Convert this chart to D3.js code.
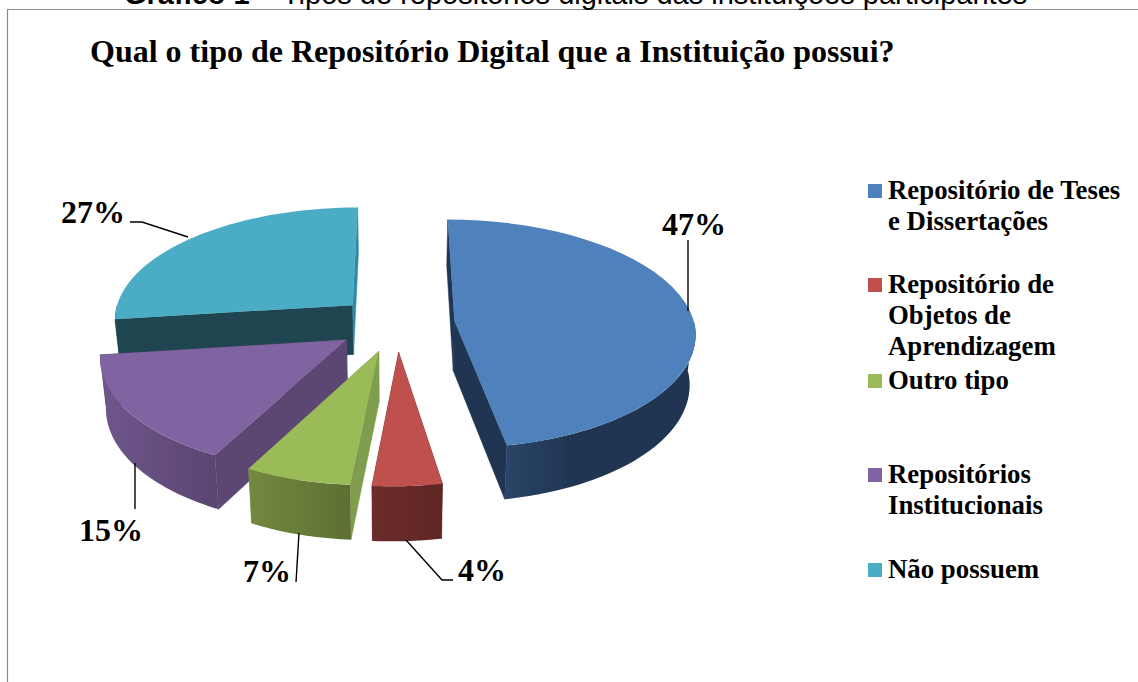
<!DOCTYPE html>
<html><head><meta charset="utf-8">
<style>
html,body{margin:0;padding:0;background:#fff}
svg{display:block}
text{font-family:"Liberation Serif","Times New Roman",serif;font-weight:bold;fill:#000}
</style>
<script src="https://cdn.jsdelivr.net/npm/d3@7"></script>
</head><body><div id="chart"></div>
<script>
const categories = ["Repositório de Teses e Dissertações","Repositório de Objetos de Aprendizagem","Outro tipo","Repositórios Institucionais","Não possuem"];
const values = [47,4.1,6.5,15.4,27];
const labelsPct = ["47%","4%","7%","15%","27%"];
const legendLines = [["Repositório de Teses","e Dissertações"],["Repositório de","Objetos de","Aprendizagem"],["Outro tipo"],["Repositórios","Institucionais"],["Não possuem"]];
const topColors = ["#4f81bd","#c0504d","#9bbb59","#8064a2","#4bacc6"];
const rimLight = ["#2a4568","#6b2c2a","#73893f","#6f568d","#245563"];
const rimDark = ["#1f3552","#602624","#5c7032","#5b4572","#1f4650"];
const wallColors = ["#1f3552","#5f2523","#7f9d4c","#5c4672","#1f4650"];
const sliverColors = ["#1f3552","#5f2523","#7f9d4c","#5c4672","#2f8aa5"];
const drawOrder = [4,0,3,2,1];

const W=1138,H=682;
const svg=d3.select("#chart").append("svg").attr("width",W).attr("height",H);
const defs=svg.append("defs");

// ground plane to screen
const explode=0.245, persp=0.113, depth=50;
const sx=d3.scaleLinear().domain([-1,1]).range([396-240,396+240]);
const sy=d3.scaleLinear().domain([-1,1]).range([323.4-114.8,323.4+114.8]);
function proj(X,Y,bottom){
  const s=1+persp*Y;
  let x=sx(X*s), y=sy(Y*s);
  if(Y>0) x-=4*Y;
  if(Y>1.1) x-=(Y-1.1)*30;
  if(bottom){ x=sx(0)+(x-sx(0))*0.98; y+=depth*(1+0.08*Y); }
  return [x,y];
}
const pie=d3.pie().sort(null).value(d=>d);
const arcs=pie(values);
const line=d3.line();
const g=svg.append("g");
const steps=a=>d3.range(0,41).map(i=>a.startAngle+(a.endAngle-a.startAngle)*i/40);

function ctx(a){
  const mid=(a.startAngle+a.endAngle)/2;
  const ax=explode*Math.sin(mid), ay=-explode*Math.cos(mid);
  return {ax,ay,rim:t=>[ax+Math.sin(t),ay-Math.cos(t)]};
}
drawOrder.forEach(i=>{
  const a=arcs[i],c=ctx(a);
  const sg=g.append("g");
  // radial walls
  [[a.startAngle,wallColors[i]],[a.endAngle,sliverColors[i]]].forEach(([t,col])=>{
    const [x,y]=c.rim(t);
    const pts=[proj(c.ax,c.ay),proj(x,y),proj(x,y,true),proj(c.ax,c.ay,true)];
    sg.append("path").attr("d",line(pts)+"Z").attr("fill",col).attr("stroke",col).attr("stroke-width",.5);
  });
  // outer rim, only the part that faces the viewer
  const lo=Math.max(a.startAngle,Math.PI/2),hi=Math.min(a.endAngle,Math.PI*1.5);
  if(hi>lo){
    const ts=d3.range(0,41).map(k=>lo+(hi-lo)*k/40);
    const up=ts.map(t=>{const[x,y]=c.rim(t);return proj(x,y)});
    const dn=ts.map(t=>{const[x,y]=c.rim(t);return proj(x,y,true)}).reverse();
    const ext=d3.extent(up,d=>d[0]);
    const id="rim"+i;
    const gr=defs.append("linearGradient").attr("id",id).attr("gradientUnits","userSpaceOnUse")
      .attr("x1",ext[0]).attr("x2",ext[1]).attr("y1",0).attr("y2",0);
    gr.append("stop").attr("offset","0").attr("stop-color",rimLight[i]);
    gr.append("stop").attr("offset",i===0?"0.35":"1").attr("stop-color",rimDark[i]);
    sg.append("path").attr("d",line(up.concat(dn))+"Z").attr("fill","url(#"+id+")");
  }
  // top face
  const top=[proj(c.ax,c.ay)].concat(steps(a).map(t=>{const[x,y]=c.rim(t);return proj(x,y)}));
  sg.append("path").attr("d",line(top)+"Z").attr("fill",topColors[i]);
});

// page frame and clipped caption
svg.append("path").attr("d","M7.5,682V9.5H1138").attr("fill","none").attr("stroke","#8a8a8a").attr("stroke-width",1.2);
const cap=svg.append("text").attr("x",124).attr("y",4).style("font-family","'Liberation Sans',Arial,sans-serif").attr("font-size",29).style("font-weight","normal");
cap.append("tspan").style("font-weight","bold").text("Gráfico 1 – ");
cap.append("tspan").text("Tipos de repositórios digitais das instituições participantes");

svg.append("text").attr("x",90).attr("y",62).attr("font-size",32).text("Qual o tipo de Repositório Digital que a Instituição possui?");

// leader lines
const leaders=[
 [[688,240],[688,311]],
 [[406,540],[442,580],[453,580]],
 [[299,533],[296,582]],
 [[135,463],[135,509]],
 [[130,222],[142,222],[188,237]]
];
leaders.forEach(p=>svg.append("path").attr("d",line(p)).attr("fill","none").attr("stroke","#000").attr("stroke-width",1.4));
const labelPos=[[662,235],[458,581],[243,582],[79,541],[61,223]];
labelsPct.forEach((t,i)=>svg.append("text").attr("x",labelPos[i][0]).attr("y",labelPos[i][1]).attr("font-size",32).text(t));

// legend
const legendY=[199,293,389,483,578];
categories.forEach((c,i)=>{
  svg.append("rect").attr("x",868).attr("y",legendY[i]-15).attr("width",14).attr("height",14).attr("fill",topColors[i]);
  legendLines[i].forEach((l,k)=>svg.append("text").attr("x",888).attr("y",legendY[i]+k*31).attr("font-size",26.8).text(l));
});
</script></body></html>
